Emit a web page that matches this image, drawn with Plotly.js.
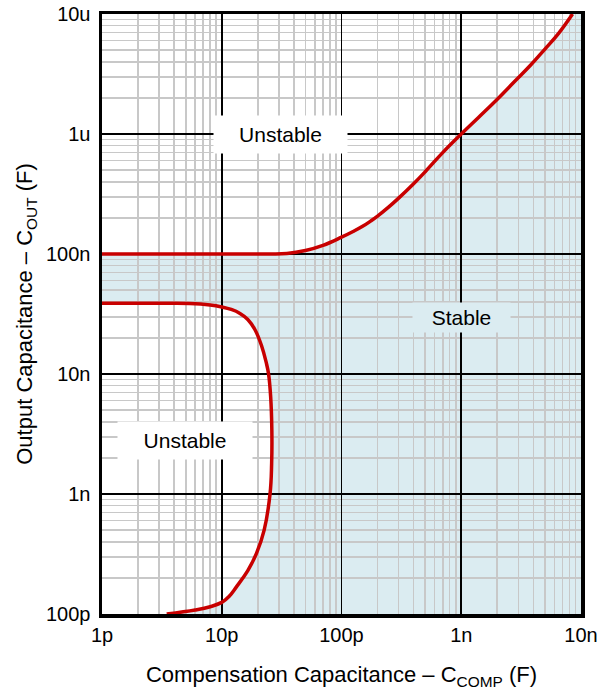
<!DOCTYPE html>
<html>
<head>
<meta charset="utf-8">
<script src="https://cdn.plot.ly/plotly-3.0.1.min.js"></script>
<style>html,body{margin:0;padding:0;background:#fff;}#chart{width:615px;height:690px;}</style>
</head>
<body>
<div id="chart"></div>
<script>
// Tick values and labels
const xTickVals = [1e-12, 1e-11, 1e-10, 1e-9, 1e-8];
const xTickText = ['1p', '10p', '100p', '1n', '10n'];
const yTickVals = [1e-10, 1e-9, 1e-8, 1e-7, 1e-6, 1e-5];
const yTickText = ['100p', '1n', '10n', '100n', '1u', '10u'];

// Upper stability boundary (C_COMP, C_OUT)
const upperX = [1e-12, 1e-11, 2.5e-11, 3.5e-11, 5e-11, 7e-11, 1e-10, 1.25e-10, 1.5e-10, 1.75e-10, 2e-10, 2.5e-10, 3e-10, 4e-10, 5e-10, 7e-10, 1e-9, 1.4e-9, 2e-9, 2.8e-9, 3.75e-9, 5e-9, 6.5e-9, 8.5e-9];
const upperY = [1e-7, 1e-7, 1.0e-7, 1.01e-7, 1.07e-7, 1.18e-7, 1.38e-7, 1.54e-7, 1.7e-7, 1.88e-7, 2.07e-7, 2.48e-7, 2.92e-7, 3.85e-7, 4.85e-7, 7.0e-7, 1.0e-6, 1.38e-6, 1.95e-6, 2.75e-6, 3.7e-6, 5.1e-6, 6.9e-6, 1.0e-5];

// Lower stability boundary (C_COMP, C_OUT)
const lowerX = [1e-12, 3e-12, 5.4e-12, 8e-12, 1.0e-11, 1.2e-11, 1.42e-11, 1.65e-11, 1.89e-11, 2.15e-11, 2.35e-11, 2.46e-11, 2.56e-11, 2.62e-11, 2.61e-11, 2.53e-11, 2.26e-11, 1.95e-11, 1.65e-11, 1.33e-11, 1.15e-11, 1.0e-11, 8e-12, 6e-12, 3.47e-12];
const lowerY = [3.88e-8, 3.88e-8, 3.87e-8, 3.76e-8, 3.62e-8, 3.45e-8, 3.2e-8, 2.85e-8, 2.35e-8, 1.72e-8, 1.25e-8, 1.0e-8, 6.5e-9, 3.4e-9, 1.8e-9, 1.0e-9, 5.0e-10, 3.2e-10, 2.3e-10, 1.69e-10, 1.4e-10, 1.25e-10, 1.15e-10, 1.08e-10, 1.0e-10];

// Axis ranges
const xMin = 1e-12, xMax = 1e-8;
const yMin = 1e-10, yMax = 1e-5;

// minor grid positions
const minorDigits = [2, 3, 4, 5, 6, 7, 8, 9];
function minorVals(lo, hi) {
  const out = [];
  for (let e = Math.round(Math.log10(lo)); e < Math.round(Math.log10(hi)); e++) minorDigits.forEach(d => out.push(d * Math.pow(10, e)));
  return out;
}

// Stable region path built from the boundary arrays (data units)
const f = v => v.toFixed(22);
let pts = [];
for (let i = 0; i < upperX.length; i++) pts.push([upperX[i], upperY[i]]);
pts.push([xMax, yMax]);
pts.push([xMax, yMin]);
for (let i = lowerX.length - 1; i >= 0; i--) pts.push([lowerX[i], lowerY[i]]);
const stablePath = 'M' + pts.map(p => f(p[0]) + ',' + f(p[1])).join(' L') + ' Z';

const red = '#c80000';
const fillColor = '#dbecf1';
const fontFam = 'Liberation Sans, Arial, sans-serif';

const traces = [
  {x: upperX, y: upperY, mode: 'lines', line: {color: red, width: 3.5, shape: 'spline', smoothing: 1.2}, hoverinfo: 'skip', showlegend: false},
  {x: lowerX, y: lowerY, mode: 'lines', line: {color: red, width: 3.5, shape: 'spline', smoothing: 1.2}, hoverinfo: 'skip', showlegend: false}
];

const axisCommon = {
  type: 'log',
  showline: true, mirror: true, linecolor: '#000', linewidth: 3.5,
  showgrid: true, gridcolor: '#000', gridwidth: 1.6,
  ticks: '', zeroline: false,
  tickfont: {family: fontFam, size: 20, color: '#000'},
  tickmode: 'array'
};

const layout = {
  width: 615, height: 690,
  margin: {l: 102, r: 34, t: 14, b: 76},
  paper_bgcolor: '#fff', plot_bgcolor: '#fff',
  font: {family: fontFam, color: '#000'},
  showlegend: false,
  xaxis: Object.assign({}, axisCommon, {
    range: [Math.log10(xMin), Math.log10(xMax)], tickvals: xTickVals, ticktext: xTickText,
    minor: {tickmode: 'array', tickvals: minorVals(xMin, xMax), showgrid: true, gridcolor: '#c8c8c8', gridwidth: 1.6, ticks: ''},
    title: {text: 'Compensation Capacitance – C<sub>COMP</sub> (F)', font: {family: fontFam, size: 22, color: '#000'}, standoff: 23}
  }),
  yaxis: Object.assign({}, axisCommon, {
    range: [Math.log10(yMin), Math.log10(yMax)], tickvals: yTickVals, ticktext: yTickText,
    ticklabelstandoff: 4,
    minor: {tickmode: 'array', tickvals: minorVals(yMin, yMax), showgrid: true, gridcolor: '#c8c8c8', gridwidth: 1.6, ticks: ''},
    title: {text: 'Output Capacitance – C<sub>OUT</sub> (F)', font: {family: fontFam, size: 22, color: '#000'}, standoff: 8}
  }),
  shapes: [
    {type: 'path', xref: 'x', yref: 'y', path: stablePath, fillcolor: fillColor, line: {width: 0}, layer: 'below'}
  ],
  annotations: [
    {x: -10.506, y: -6.0, xref: 'x', yref: 'y', text: 'Unstable', showarrow: false, bgcolor: '#fff', width: 133, height: 37, borderpad: 0, font: {family: fontFam, size: 21, color: '#000'}},
    {x: -11.307, y: -8.55, xref: 'x', yref: 'y', text: 'Unstable', showarrow: false, bgcolor: '#fff', width: 134, height: 37, borderpad: 0, font: {family: fontFam, size: 21, color: '#000'}},
    {x: -9.0, y: -7.533, xref: 'x', yref: 'y', text: 'Stable', showarrow: false, bgcolor: fillColor, width: 97, height: 29, borderpad: 0, font: {family: fontFam, size: 21, color: '#000'}}
  ]
};

Plotly.newPlot('chart', traces, layout, {displayModeBar: false, staticPlot: true});
</script>
</body>
</html>
